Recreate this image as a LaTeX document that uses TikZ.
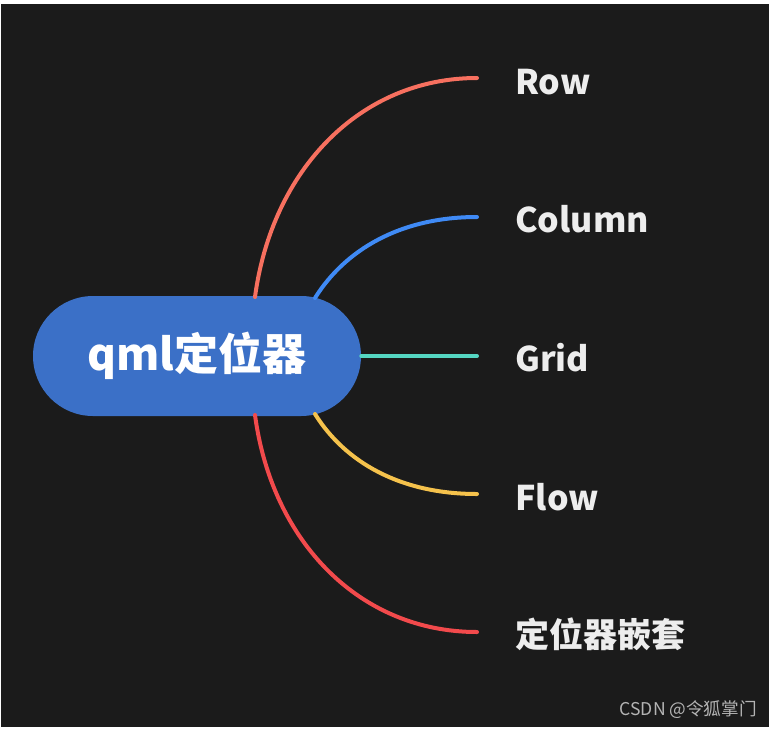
\documentclass[tikz,border=0pt]{standalone}
\usepackage{fontspec}
\setmainfont{Noto Sans CJK SC}
\newfontfamily\cjk{Noto Sans CJK SC}
\definecolor{bgdark}{HTML}{1B1B1B}
\definecolor{nodeblue}{HTML}{3B70C7}
\definecolor{cRow}{HTML}{F7705F}
\definecolor{cCol}{HTML}{3F8AF5}
\definecolor{cGrid}{HTML}{55D6C2}
\definecolor{cFlow}{HTML}{F5C24C}
\definecolor{cNest}{HTML}{F24A4C}
\definecolor{labtext}{HTML}{EDEDED}
\definecolor{wmark}{HTML}{B4B4B4}
\tikzset{
  branch/.style={line width=3pt, line cap=round},
  leaf/.style={anchor=west, inner sep=0pt, text=labtext, font=\cjk\bfseries\fontsize{25.5pt}{30pt}\selectfont},
  root/.style={fill=nodeblue, draw=none, rounded corners=45pt, minimum width=246pt, minimum height=90pt, inner sep=0pt, text=white, font=\cjk\bfseries\fontsize{33pt}{38pt}\selectfont}
}
\begin{document}
\begin{tikzpicture}[x=0.75pt, y=-0.75pt]
\useasboundingbox (0,0) rectangle (771,729);
\fill[white] (0,0) rectangle (771,729);
\fill[bgdark] (1,4) rectangle (769,727);

\node[root] (c) at (197,356) {qml定位器};

\node[leaf] (row) at (515,82) {Row};
\node[leaf] (col) at (515,219) {Column};
\node[leaf] (grid) at (515,358) {Grid};
\node[leaf] (flow) at (515,497) {Flow};
\node[leaf] (nest) at (515,634) {定位器嵌套};

\coordinate (sRow) at (255,297);
\coordinate (sCol) at (315,298);
\coordinate (sFlow) at (315,414);
\coordinate (sNest) at (255,415);
\coordinate (eRow) at (477,78);
\coordinate (eCol) at (477,217);
\coordinate (eGrid) at (477,356);
\coordinate (eFlow) at (477,494);
\coordinate (eNest) at (477,632);

\draw[branch, cRow] (sRow) .. controls (272,170) and (360,78) .. (eRow);
\draw[branch, cCol] (sCol) .. controls (345,250) and (400,217) .. (eCol);
\draw[branch, cGrid] (c.east) -- (eGrid);
\draw[branch, cFlow] (sFlow) .. controls (345,462) and (400,494) .. (eFlow);
\draw[branch, cNest] (sNest) .. controls (272,542) and (360,632) .. (eNest);

\node[anchor=east, inner sep=0pt, text=wmark, font=\cjk\fontsize{13.2pt}{16pt}\selectfont] (wm) at (757,710) {CSDN @令狐掌门};
\end{tikzpicture}
\end{document}
